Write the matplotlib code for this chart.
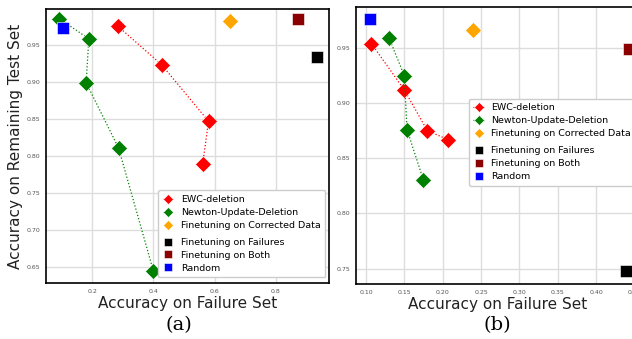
import matplotlib.pyplot as plt
from matplotlib.offsetbox import DrawingArea

# panel (a)
a_ewc_x = [0.284, 0.427, 0.580, 0.561]
a_ewc_y = [0.975, 0.923, 0.847, 0.790]
a_newton_x = [0.093, 0.189, 0.180, 0.286, 0.400]
a_newton_y = [0.985, 0.958, 0.899, 0.811, 0.645]
a_corrected = (0.651, 0.982)
a_failures = (0.934, 0.933)
a_both = (0.871, 0.985)
a_random = (0.106, 0.972)

# panel (b)
b_ewc_x = [0.107, 0.150, 0.180, 0.207]
b_ewc_y = [0.954, 0.912, 0.875, 0.867]
b_newton_x = [0.130, 0.150, 0.1535, 0.175]
b_newton_y = [0.959, 0.925, 0.876, 0.830]
b_corrected = (0.2395, 0.966)
b_failures = (0.439, 0.748)
b_both = (0.443, 0.949)
b_random = (0.1047, 0.976)

labels = ["EWC-deletion", "Newton-Update-Deletion", "Finetuning on Corrected Data",
          "Finetuning on Failures", "Finetuning on Both", "Random"]

fig = plt.figure(figsize=(6.32, 3.39), dpi=100)
ax1 = fig.add_axes([0.0728, 0.165, 0.448, 0.808])
ax2 = fig.add_axes([0.5633, 0.162, 0.449, 0.817])

mk = dict(mec="white", mew=0.4)


def draw(ax, ewc_x, ewc_y, nx, ny, corr, fail, both, rnd):
    h = []
    h += ax.plot(ewc_x, ewc_y, ":", color="red", lw=0.9, marker="D", ms=8.5, **mk)
    h += ax.plot(nx, ny, ":", color="green", lw=0.9, marker="D", ms=8.5, **mk)
    h += ax.plot(*corr, "D", color="orange", ms=8.5, **mk)
    h += ax.plot(*fail, "s", color="black", ms=9, **mk)
    h += ax.plot(*both, "s", color="darkred", ms=9, **mk)
    h += ax.plot(*rnd, "s", color="blue", ms=9, **mk)
    ax.grid(True, color="#dddddd", lw=1)
    ax.set_axisbelow(True)
    ax.tick_params(length=0, labelsize=4.5, labelcolor="#555555", pad=4)
    for s in ax.spines.values():
        s.set_color("black")
        s.set_linewidth(1.2)
    return h


h1 = draw(ax1, a_ewc_x, a_ewc_y, a_newton_x, a_newton_y, a_corrected, a_failures, a_both, a_random)
h2 = draw(ax2, b_ewc_x, b_ewc_y, b_newton_x, b_newton_y, b_corrected, b_failures, b_both, b_random)

ax1.set_xlim(0.049, 0.974)
ax1.set_ylim(0.629, 0.998)
ax1.set_xticks([0.2, 0.4, 0.6, 0.8])
ax1.set_yticks([0.65, 0.70, 0.75, 0.80, 0.85, 0.90, 0.95])
ax1.set_xlabel("Accuracy on Failure Set", fontsize=11, color="#222222", labelpad=2)
ax1.set_ylabel("Accuracy on Remaining Test Set", fontsize=11, color="#222222", labelpad=3)

ax2.set_xlim(0.087, 0.457)
ax2.set_ylim(0.736, 0.987)
ax2.set_xticks([0.10, 0.15, 0.20, 0.25, 0.30, 0.35, 0.40, 0.45])
ax2.set_yticks([0.75, 0.80, 0.85, 0.90, 0.95])
ax2.set_xlabel("Accuracy on Failure Set", fontsize=11, color="#222222", labelpad=2)


def legend(ax, h, **kw):
    leg = ax.legend(h, labels, fontsize=6.8, markerscale=0.6, handlelength=1.1,
                    handletextpad=0.8, labelspacing=0.42, borderpad=0.5,
                    borderaxespad=0.3, framealpha=1, edgecolor="#cccccc", **kw)
    col = leg._legend_handle_box.get_children()[0]
    col.get_children().insert(3, DrawingArea(0, 0))
    return leg


legend(ax1, h1, loc="lower right", bbox_to_anchor=(0.997, 0.01))
legend(ax2, h2, loc="upper left", bbox_to_anchor=(0.387, 0.68))

fig.text(179 / 632, 1 - 325 / 339, "(a)", fontsize=14, family="DejaVu Serif", ha="center", va="center")
fig.text(497 / 632, 1 - 325 / 339, "(b)", fontsize=14, family="DejaVu Serif", ha="center", va="center")

fig.savefig("out.png", dpi=100)
